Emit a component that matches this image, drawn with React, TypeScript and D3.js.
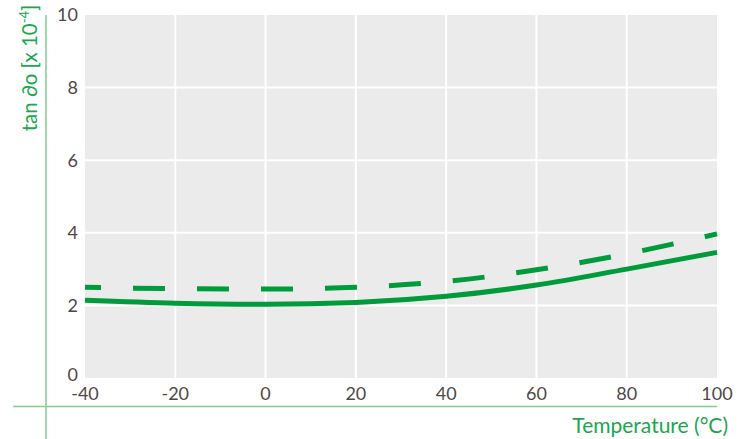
import React from "react";
import * as d3 from "d3";

const temps = [-40, -20, 0, 20, 40, 60, 80, 100];
const solidVals = [2.14, 2.06, 2.03, 2.08, 2.25, 2.56, 3.0, 3.46];
const dashedVals = [2.5, 2.46, 2.45, 2.5, 2.66, 2.98, 3.42, 3.97];
const xTicks = [-40, -20, 0, 20, 40, 60, 80, 100];
const yTicks = [0, 2, 4, 6, 8, 10];

const W = 743, H = 439;
const left = 85, right = 717, top = 15, bottom = 378;
const green = "#009b3a";
const axisGreen = "#7fd08f";
const titleGreen = "#1aa84e";
const labelColor = "#4f4846";
const font = "Lato, 'Open Sans', sans-serif";

export default function App() {
  const x = d3.scaleLinear().domain([-40, 100]).range([left, right]);
  const y = d3.scaleLinear().domain([0, 10]).range([bottom, top]);
  const line = d3
    .line<number>()
    .x((_, i) => x(temps[i]))
    .y((d) => y(d))
    .curve(d3.curveMonotoneX);

  return (
    <svg width={W} height={H} style={{ position: "absolute", left: 0, top: 0 }}>
      <rect x={left} y={top} width={right - left} height={bottom - top} fill="#ebebeb" />
      {yTicks.filter((t) => t > 0 && t < 10).map((t) => (
        <line key={"gy" + t} x1={left} x2={right} y1={y(t)} y2={y(t)} stroke="#fff" strokeWidth={2} />
      ))}
      {xTicks.filter((t) => t > -40 && t < 100).map((t) => (
        <line key={"gx" + t} x1={x(t)} x2={x(t)} y1={top} y2={bottom} stroke="#fff" strokeWidth={2} />
      ))}
      <path d={line(solidVals) || ""} fill="none" stroke={green} strokeWidth={5} />
      <path
        d={line(dashedVals) || ""}
        fill="none"
        stroke={green}
        strokeWidth={5}
        strokeDasharray="32,32"
        strokeDashoffset={16}
      />
      <line x1={46} x2={46} y1={15} y2={439} stroke={axisGreen} strokeWidth={1.5} />
      <line x1={13} x2={717} y1={406.5} y2={406.5} stroke={axisGreen} strokeWidth={1.5} />
      {yTicks.map((t) => (
        <text
          key={"ly" + t}
          x={78}
          y={t === 0 ? y(t) - 3 : y(t)}
          dy="0.35em"
          textAnchor="end"
          fontFamily={font}
          fontSize={18}
          fill={labelColor}
        >
          {t}
        </text>
      ))}
      {xTicks.map((t) => (
        <text
          key={"lx" + t}
          x={x(t)}
          y={400}
          textAnchor="middle"
          fontFamily={font}
          fontSize={18}
          fill={labelColor}
        >
          {t}
        </text>
      ))}
      <text
        x={728}
        y={433}
        textAnchor="end"
        fontFamily={font}
        fontSize={21}
        fill={titleGreen}
      >
        Temperature (°C)
      </text>
      <text
        transform="translate(37,68) rotate(-90)"
        textAnchor="middle"
        fontFamily={font}
        fontSize={20.5}
        fill={titleGreen}
      >
        tan ∂o [x 10
        <tspan dy={-8} fontSize={13}>-4</tspan>
        <tspan dy={8}>]</tspan>
      </text>
    </svg>
  );
}
